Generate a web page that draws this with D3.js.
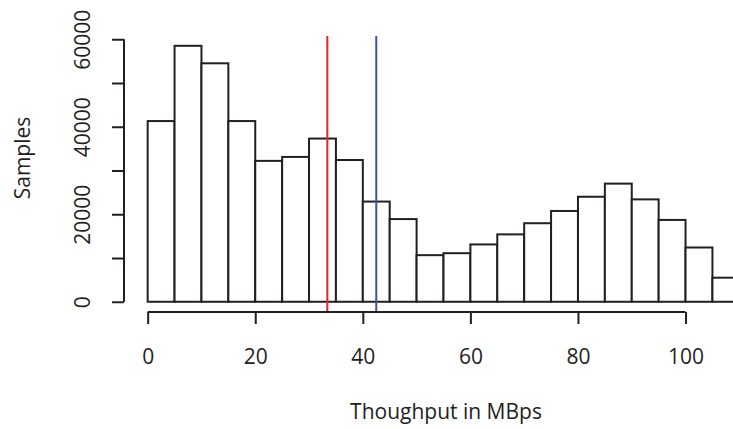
<!DOCTYPE html>
<html>
<head>
<meta charset="utf-8">
<script src="https://cdn.jsdelivr.net/npm/d3@7"></script>
<style>
  html, body { margin: 0; padding: 0; background: #fff; overflow: hidden; }
  svg { display: block; }
</style>
</head>
<body>
<div id="chart"></div>
<script>
// histogram bins, width 5 MBps
const breaks = d3.range(0, 115, 5);
const counts = [41300, 58500, 54500, 41300, 32200, 33100, 37300, 32400, 22900, 18900,
                10650, 11100, 13100, 15400, 17950, 20750, 24000, 27000, 23400, 18700,
                12400, 5500];
const xTicks = [0, 20, 40, 60, 80, 100];
const yTicks = [0, 10000, 20000, 30000, 40000, 50000, 60000];
const yLabels = [0, 20000, 40000, 60000];
const medianLine = 33.4;   // red
const meanLine = 42.5;     // blue

const W = 733, H = 429;
const ink = "#231f20";
const font = "'Open Sans', 'Noto Sans', sans-serif";
const fs = 21;

const svg = d3.select("#chart").append("svg")
    .attr("width", W).attr("height", H)
    .attr("viewBox", `0 0 ${W} ${H}`);

// plot region, R style with 4% padding on each side
const x = d3.scaleLinear().domain([-4.4, 114.4]).range([124, 763]);
const y = d3.scaleLinear().domain([-2340, 60740]).range([312, 36]);

const bins = counts.map((c, i) => ({ x0: breaks[i], x1: breaks[i + 1], n: c }));

svg.append("g").selectAll("rect")
    .data(bins)
    .join("rect")
    .attr("x", d => x(d.x0))
    .attr("y", d => y(d.n))
    .attr("width", d => x(d.x1) - x(d.x0))
    .attr("height", d => y(0) - y(d.n))
    .attr("fill", "#fff")
    .attr("stroke", ink)
    .attr("stroke-width", 2);

// vertical reference lines
svg.append("line")
    .attr("x1", x(medianLine)).attr("x2", x(medianLine))
    .attr("y1", y.range()[1]).attr("y2", y.range()[0])
    .attr("stroke", "#ed2228").attr("stroke-width", 2);
svg.append("line")
    .attr("x1", x(meanLine)).attr("x2", x(meanLine))
    .attr("y1", y.range()[1]).attr("y2", y.range()[0])
    .attr("stroke", "#3a54a4").attr("stroke-width", 2);

// x axis
const gx = svg.append("g")
    .attr("transform", `translate(0,${y.range()[0]})`)
    .call(d3.axisBottom(x).tickValues(xTicks).tickSize(12).tickSizeOuter(0).tickPadding(25));
gx.select(".domain").attr("d", `M${x(0)},0H${x(100)}`);
gx.selectAll("line, path").attr("stroke", ink).attr("stroke-width", 2);
gx.selectAll("text").attr("font-family", font).attr("font-size", fs).attr("fill", ink);

// y axis
const gy = svg.append("g")
    .attr("transform", `translate(${x.range()[0]},0)`)
    .call(d3.axisLeft(y).tickValues(yTicks).tickSize(12).tickSizeOuter(0)
        .tickFormat(d => yLabels.includes(d) ? d : ""));
gy.select(".domain").attr("d", `M0,${y(0)}V${y(60000)}`);
gy.selectAll("line, path").attr("stroke", ink).attr("stroke-width", 2);
gy.selectAll("text")
    .attr("font-family", font).attr("font-size", fs).attr("fill", ink)
    .attr("text-anchor", "middle")
    .attr("x", 0).attr("y", -41).attr("dy", "0.35em")
    .attr("transform", "rotate(-90)");

// titles
svg.append("text")
    .attr("x", 446).attr("y", 412).attr("dy", "0.35em")
    .attr("text-anchor", "middle")
    .attr("font-family", font).attr("font-size", fs).attr("fill", ink)
    .text("Thoughput in MBps");
svg.append("text")
    .attr("transform", "translate(23,158) rotate(-90)")
    .attr("dy", "0.35em")
    .attr("text-anchor", "middle")
    .attr("font-family", font).attr("font-size", fs).attr("fill", ink)
    .text("Samples");
</script>
</body>
</html>
